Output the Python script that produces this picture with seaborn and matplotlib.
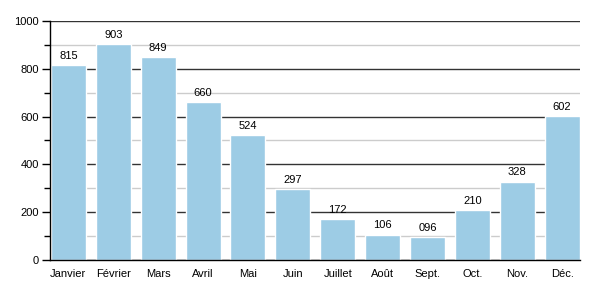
import matplotlib
matplotlib.use("Agg")
import matplotlib.pyplot as plt
import seaborn as sns
import pandas as pd
from matplotlib.ticker import MultipleLocator

months = ["Janvier", "Février", "Mars", "Avril", "Mai", "Juin", "Juillet",
          "Août", "Sept.", "Oct.", "Nov.", "Déc."]
values = [815, 903, 849, 660, 524, 297, 172, 106, 96, 210, 328, 602]
labels = ["815", "903", "849", "660", "524", "297", "172", "106", "096", "210", "328", "602"]

sns.set_style("white")
plt.rcParams['font.family'] = ['Liberation Sans', 'DejaVu Sans']
plt.rcParams['text.color'] = 'black'
plt.rcParams['xtick.color'] = 'black'
plt.rcParams['ytick.color'] = 'black'

df = pd.DataFrame({"month": months, "value": values})

fig = plt.figure(figsize=(6, 3), dpi=100)
ax = fig.add_axes([0.0833, 0.1333, 0.8834, 0.797])

sns.barplot(data=df, x="month", y="value", color="#9dcce5", saturation=1,
            width=0.78, ax=ax, zorder=2)

ax.set_xlim(-0.41, 11.4)
ax.set_ylim(0, 1000)
ax.yaxis.set_major_locator(MultipleLocator(200))
ax.yaxis.set_minor_locator(MultipleLocator(100))
ax.grid(which="major", axis="y", color="#333333", linewidth=1.0, zorder=1)
ax.grid(which="minor", axis="y", color="#cccccc", linewidth=1.0, zorder=1)
ax.set_axisbelow(True)

for s in ["top", "right"]:
    ax.spines[s].set_visible(False)
for s in ["left", "bottom"]:
    ax.spines[s].set_color("black")
    ax.spines[s].set_linewidth(1.0)
    ax.spines[s].set_zorder(3)

ax.tick_params(axis="y", which="major", left=True, length=6, width=1,
               color="black", labelcolor="black", labelsize=8, pad=2)
ax.tick_params(axis="y", which="minor", left=True, length=4, width=1,
               color="black")
ax.tick_params(axis="x", bottom=False, labelsize=8, pad=3, labelcolor="black")
ax.set_xlabel("")
ax.set_ylabel("")

for i, (v, lab) in enumerate(zip(values, labels)):
    ax.annotate(lab, (i, v), xytext=(0, 3), textcoords="offset points",
                ha="center", va="bottom", fontsize=8, color="black", zorder=4)

fig.savefig("out.png", dpi=100)
